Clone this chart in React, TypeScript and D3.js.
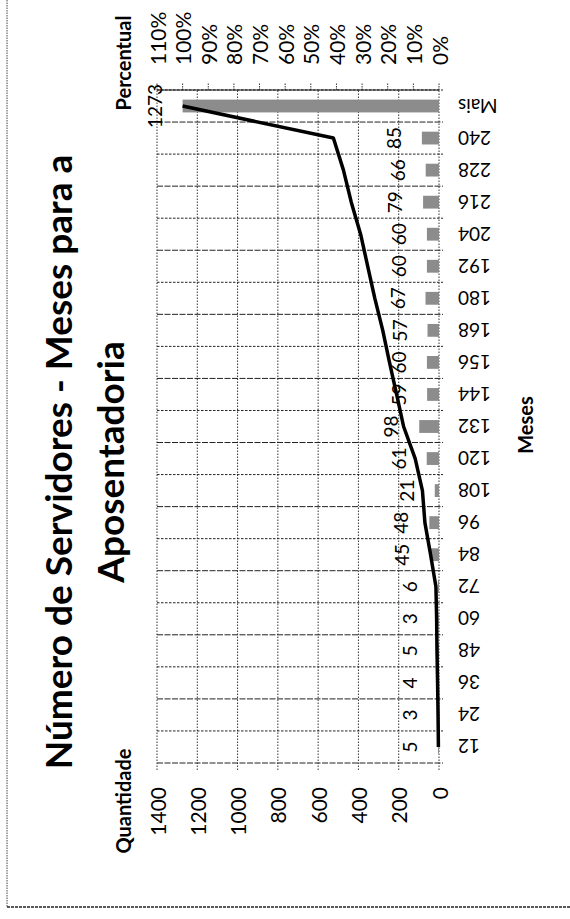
import React from "react";
import * as d3 from "d3";

const categories = ["12", "24", "36", "48", "60", "72", "84", "96", "108", "120", "132", "144", "156", "168", "180", "192", "204", "216", "228", "240", "Mais"];
const counts = [5, 3, 4, 5, 3, 6, 45, 48, 21, 61, 98, 59, 60, 57, 67, 60, 60, 79, 66, 85, 1273];
const quantTicks = [0, 200, 400, 600, 800, 1000, 1200, 1400];
const pctTicks = [0, 0.1, 0.2, 0.3, 0.4, 0.5, 0.6, 0.7, 0.8, 0.9, 1.0, 1.1];
const titleLines = ["Número de Servidores - Meses para a", "Aposentadoria"];
const leftAxisTitle = "Quantidade";
const rightAxisTitle = "Percentual";
const catAxisTitle = "Meses";

const W = 570;
const H = 919;
const SANS = "Lato, 'Open Sans', sans-serif";

export default function App() {
  // Drawing frame is the un-rotated chart: X along page height, Y along page width.
  const total = d3.sum(counts);
  const cum = Array.from(d3.cumsum(counts)).map((v) => v / total);
  const x = d3.scaleBand<string>().domain(categories).range([156, 829]).padding(0);
  const yQ = d3.scaleLinear().domain([0, 1400]).range([439, 157]);
  const yP = d3.scaleLinear().domain([0, 1.1]).range([439, 157]);
  const bw = x.bandwidth();
  const barW = bw / 2.5;
  const cx = (c: string) => (x(c) as number) + bw / 2;
  const line = d3
    .line<number>()
    .x((_, i) => cx(categories[i]))
    .y((d) => yP(d));
  const [X0, X1] = x.range();
  const boundaries = d3.range(categories.length + 1).map((i) => X0 + i * bw);

  return (
    <svg
      width={W}
      height={H}
      style={{ position: "absolute", left: 0, top: 0, background: "#fff" }}
    >
      <rect x={0} y={0} width={W} height={H} fill="#fff" />
      {/* frame borders (page coords) */}
      <line x1={7} y1={0} x2={7} y2={907} stroke="#444" strokeWidth={1} strokeDasharray="1.5,1" />
      <line x1={7} y1={907} x2={W} y2={907} stroke="#222" strokeWidth={1.5} strokeDasharray="3,1" />

      <g transform={`translate(0,${H}) rotate(-90)`}>
        {/* title */}
        {titleLines.map((t, i) => (
          <text
            key={t}
            x={457}
            y={72 + i * 52}
            textAnchor="middle"
            fontFamily={SANS}
            fontWeight={700}
            fontSize={37}
            fill="#000"
          >
            {t}
          </text>
        ))}

        {/* value gridlines (dotted) */}
        {quantTicks.map((t) => (
          <line
            key={"g" + t}
            x1={X0 - 7}
            x2={X1}
            y1={yQ(t)}
            y2={yQ(t)}
            stroke="#333"
            strokeWidth={1}
            strokeDasharray="1.5,1.5"
          />
        ))}
        {/* category boundary lines */}
        {boundaries.map((b, i) => (
          <line
            key={"b" + i}
            x1={b}
            x2={b}
            y1={yQ(1400)}
            y2={yQ(0) + 4}
            stroke="#222"
            strokeWidth={1}
            strokeDasharray={i % 2 === 0 ? "6,1.5" : "2.5,1.5"}
          />
        ))}
        {/* right axis ticks */}
        {pctTicks.map((t) => (
          <line
            key={"pt" + t}
            x1={X1}
            x2={X1 + 7}
            y1={yP(t)}
            y2={yP(t)}
            stroke="#333"
            strokeWidth={1}
            strokeDasharray="1.5,1"
          />
        ))}
        <line x1={X1} x2={X1} y1={yQ(1400)} y2={yQ(0)} stroke="#111" strokeWidth={1.2} />

        {/* bars */}
        {counts.map((v, i) => (
          <rect
            key={"bar" + i}
            x={cx(categories[i]) - barW / 2}
            y={yQ(v)}
            width={barW}
            height={yQ(0) - yQ(v)}
            fill="#8c8c8c"
          />
        ))}

        {/* cumulative line */}
        <path d={line(cum) as string} fill="none" stroke="#000" strokeWidth={3.5} strokeLinejoin="round" />

        {/* data labels */}
        {counts.map((v, i) => (
          <text
            key={"dl" + i}
            x={cx(categories[i])}
            y={yQ(v) - 21}
            textAnchor="middle"
            fontFamily={SANS}
            fontSize={19}
            fill="#000"
          >
            {v}
          </text>
        ))}

        {/* category labels (rotated) */}
        {categories.map((c) => (
          <text
            key={"cl" + c}
            transform={`translate(${cx(c)},${yQ(0) + 19}) rotate(-90)`}
            textAnchor="end"
            dominantBaseline="central"
            fontFamily={SANS}
            fontSize={19}
            fill="#000"
          >
            {c}
          </text>
        ))}

        {/* left axis labels */}
        {quantTicks.map((t) => (
          <text
            key={"ql" + t}
            x={132}
            y={yQ(t)}
            textAnchor="end"
            dominantBaseline="central"
            fontFamily={SANS}
            fontSize={21}
            fill="#000"
          >
            {t}
          </text>
        ))}
        {/* right axis labels */}
        {pctTicks.map((t) => (
          <text
            key={"pl" + t}
            x={854}
            y={yP(t)}
            textAnchor="start"
            dominantBaseline="central"
            fontFamily={SANS}
            fontSize={21}
            fill="#000"
          >
            {d3.format(".0%")(t)}
          </text>
        ))}

        {/* axis titles */}
        <text x={118} y={131} textAnchor="middle" fontFamily={SANS} fontWeight={700} fontSize={20}>
          {leftAxisTitle}
        </text>
        <text x={856} y={131} textAnchor="middle" fontFamily={SANS} fontWeight={700} fontSize={20}>
          {rightAxisTitle}
        </text>
        <text x={494} y={533} textAnchor="middle" fontFamily={SANS} fontWeight={700} fontSize={20}>
          {catAxisTitle}
        </text>
      </g>
    </svg>
  );
}
